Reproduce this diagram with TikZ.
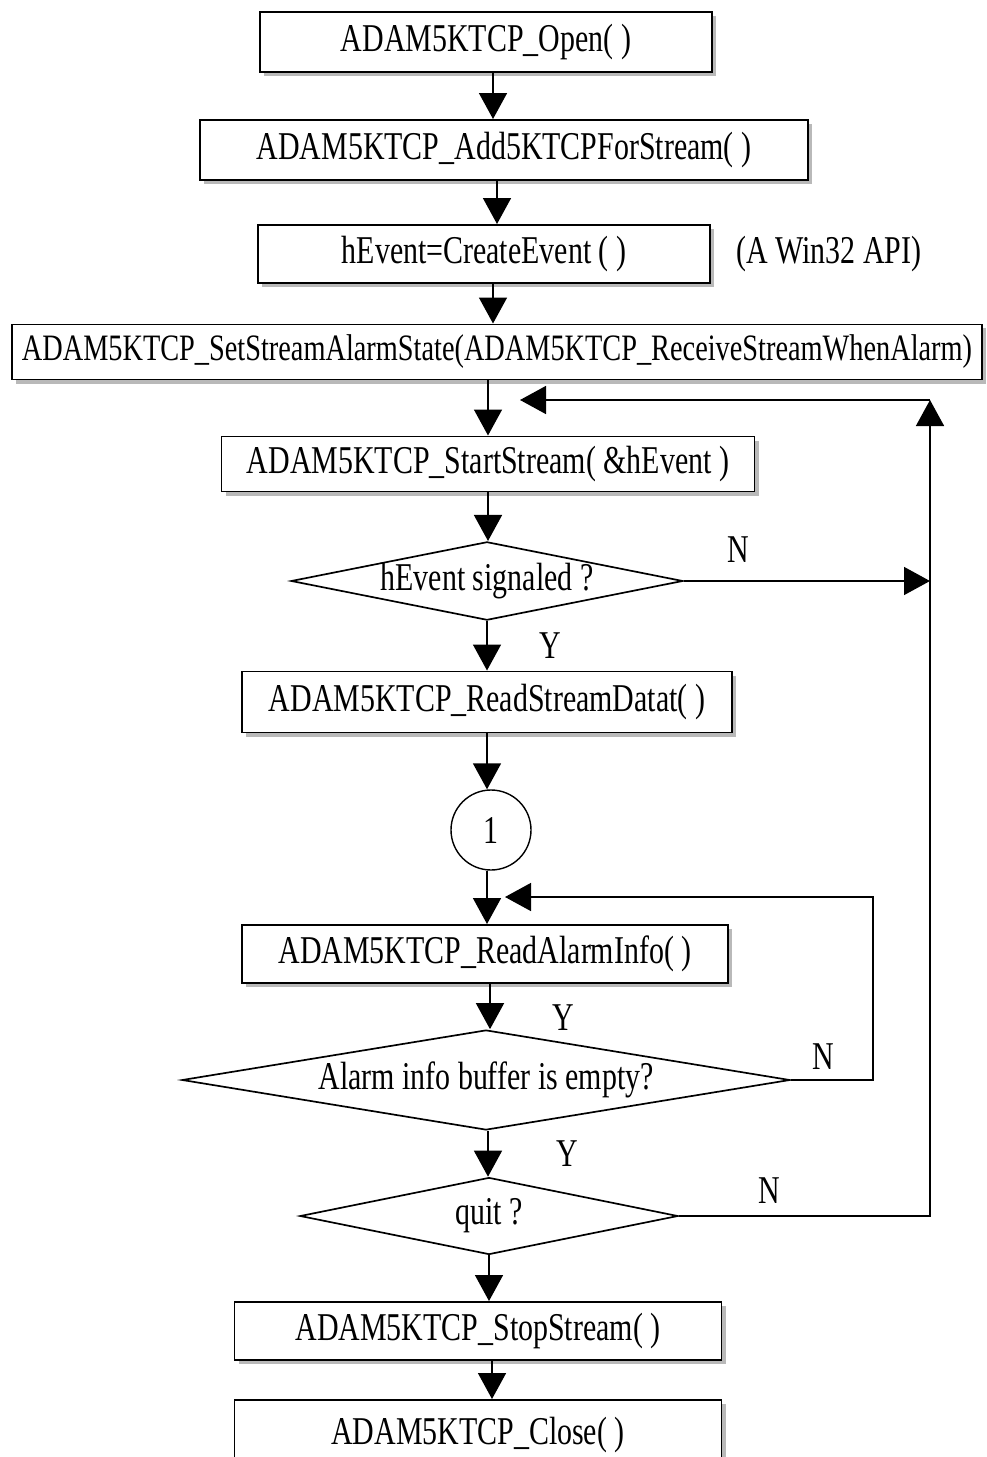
\documentclass[tikz,border=0pt]{standalone}
\usepackage{fontspec}
\setmainfont{Liberation Serif}[FakeStretch=0.76]
\usepackage{tikz}
\usetikzlibrary{positioning,arrows.meta,shapes.geometric,shadows}
\newlength{\pxu}
\setlength{\pxu}{0.025cm}
\tikzset{
  fnt/.style={font=\fontsize{28}{32}\selectfont},
  proc/.style={draw,fill=white,line width=1.4pt,inner sep=0pt,fnt,drop shadow={shadow xshift=4\pxu,shadow yshift=-4\pxu,fill=black!55}},
  dec/.style={draw,shape=diamond,aspect=5,inner sep=0pt,line width=1.2pt,fnt},
  conn/.style={draw,circle,inner sep=0pt,line width=1pt,minimum size=80\pxu,fnt},
  lbl/.style={fnt,inner sep=0pt},
  arr/.style={-{Triangle[width=0.7cm,length=0.65cm]},line width=1.1pt},
}
\begin{document}
\begin{tikzpicture}[x=1\pxu,y=-1\pxu]
  \clip (0,0) rectangle (986,1457);
  \node[proc,minimum width=452\pxu,minimum height=60\pxu] (open) at (486,42) {ADAM5KTCP\_Open( )};
  \node[proc,minimum width=608\pxu,minimum height=60\pxu] (add) at (504,150) {ADAM5KTCP\_Add5KTCPForStream( )};
  \node[proc,minimum width=452\pxu,minimum height=58\pxu] (crev) at (484,254) {hEvent=CreateEvent ( )};
  \node[lbl,right=25\pxu of crev] (api) {(A Win32 API)};
  \node[proc,minimum width=970\pxu,minimum height=55\pxu,font=\fontsize{26.5}{30}\selectfont] (alst) at (497,352) {ADAM5KTCP\_SetStreamAlarmState(ADAM5KTCP\_ReceiveStreamWhenAlarm)};
  \node[proc,minimum width=533\pxu,minimum height=55\pxu] (strt) at (488,464) {ADAM5KTCP\_StartStream( \&hEvent )};
  \node[dec,minimum width=383\pxu,minimum height=78\pxu] (sig) at (487,581) {hEvent signaled ?};
  \node[proc,minimum width=490\pxu,minimum height=61\pxu] (rdst) at (487,702) {ADAM5KTCP\_ReadStreamDatat( )};
  \node[conn] (con) at (491,830) {1};
  \node[proc,minimum width=486\pxu,minimum height=58\pxu] (rdal) at (485,954) {ADAM5KTCP\_ReadAlarmInfo( )};
  \node[dec,minimum width=608\pxu,minimum height=100\pxu,aspect=6] (emp) at (486,1080) {Alarm info buffer is empty?};
  \node[dec,minimum width=378\pxu,minimum height=77\pxu] (quit) at (489,1216) {quit ?};
  \node[proc,minimum width=487\pxu,minimum height=58\pxu] (stop) at (478,1331) {ADAM5KTCP\_StopStream( )};
  \node[proc,minimum width=487\pxu,minimum height=70\pxu] (close) at (478,1435) {ADAM5KTCP\_Close( )};
  \coordinate (ret) at (930,400);
  \coordinate (rin) at (520,400);
  \coordinate (lp) at (873,897);
  \coordinate (lin) at (505,897);
  \draw[arr] ([xshift=7\pxu]open.south) -- ([xshift=7\pxu]open.south |- add.north);
  \draw[arr] ([xshift=13\pxu]crev.north |- add.south) -- ([xshift=13\pxu]crev.north);
  \draw[arr] ([xshift=9\pxu]crev.south) -- ([xshift=9\pxu]crev.south |- alst.north);
  \draw[arr] (strt.north |- alst.south) -- (strt.north);
  \draw[arr] (strt.south) -- (strt.south |- sig.north);
  \draw[arr] (sig.south) -- node[lbl,right=52\pxu]{Y} (sig.south |- rdst.north);
  \draw[arr] (rdst.south) -- (rdst.south |- con.north);
  \draw[arr] ([xshift=-4\pxu]con.south) -- ([xshift=-4\pxu]con.south |- rdal.north);
  \draw[arr] ([xshift=5\pxu]rdal.south) -- node[lbl,pos=.75,right=62\pxu]{Y} ([xshift=5\pxu]rdal.south |- emp.north);
  \draw[arr] ([xshift=2\pxu]emp.south) -- node[lbl,right=68\pxu]{Y} ([xshift=2\pxu]emp.south |- quit.north);
  \draw[arr] (quit.south) -- (quit.south |- stop.north);
  \draw[arr] ([xshift=14\pxu]stop.south) -- ([xshift=14\pxu]stop.south |- close.north);
  \draw[arr] (sig.east) -- node[lbl,pos=.22,above=18\pxu]{N} (sig.east -| ret);
  \draw[arr] (emp.east) -| node[lbl,pos=.2,above=10\pxu]{N} (lp) -- (lin);
  \draw[arr] (quit.east) -| node[lbl,pos=.18,above=12\pxu]{N} (ret);
  \draw[arr] (ret) -- (rin);
\end{tikzpicture}
\end{document}
